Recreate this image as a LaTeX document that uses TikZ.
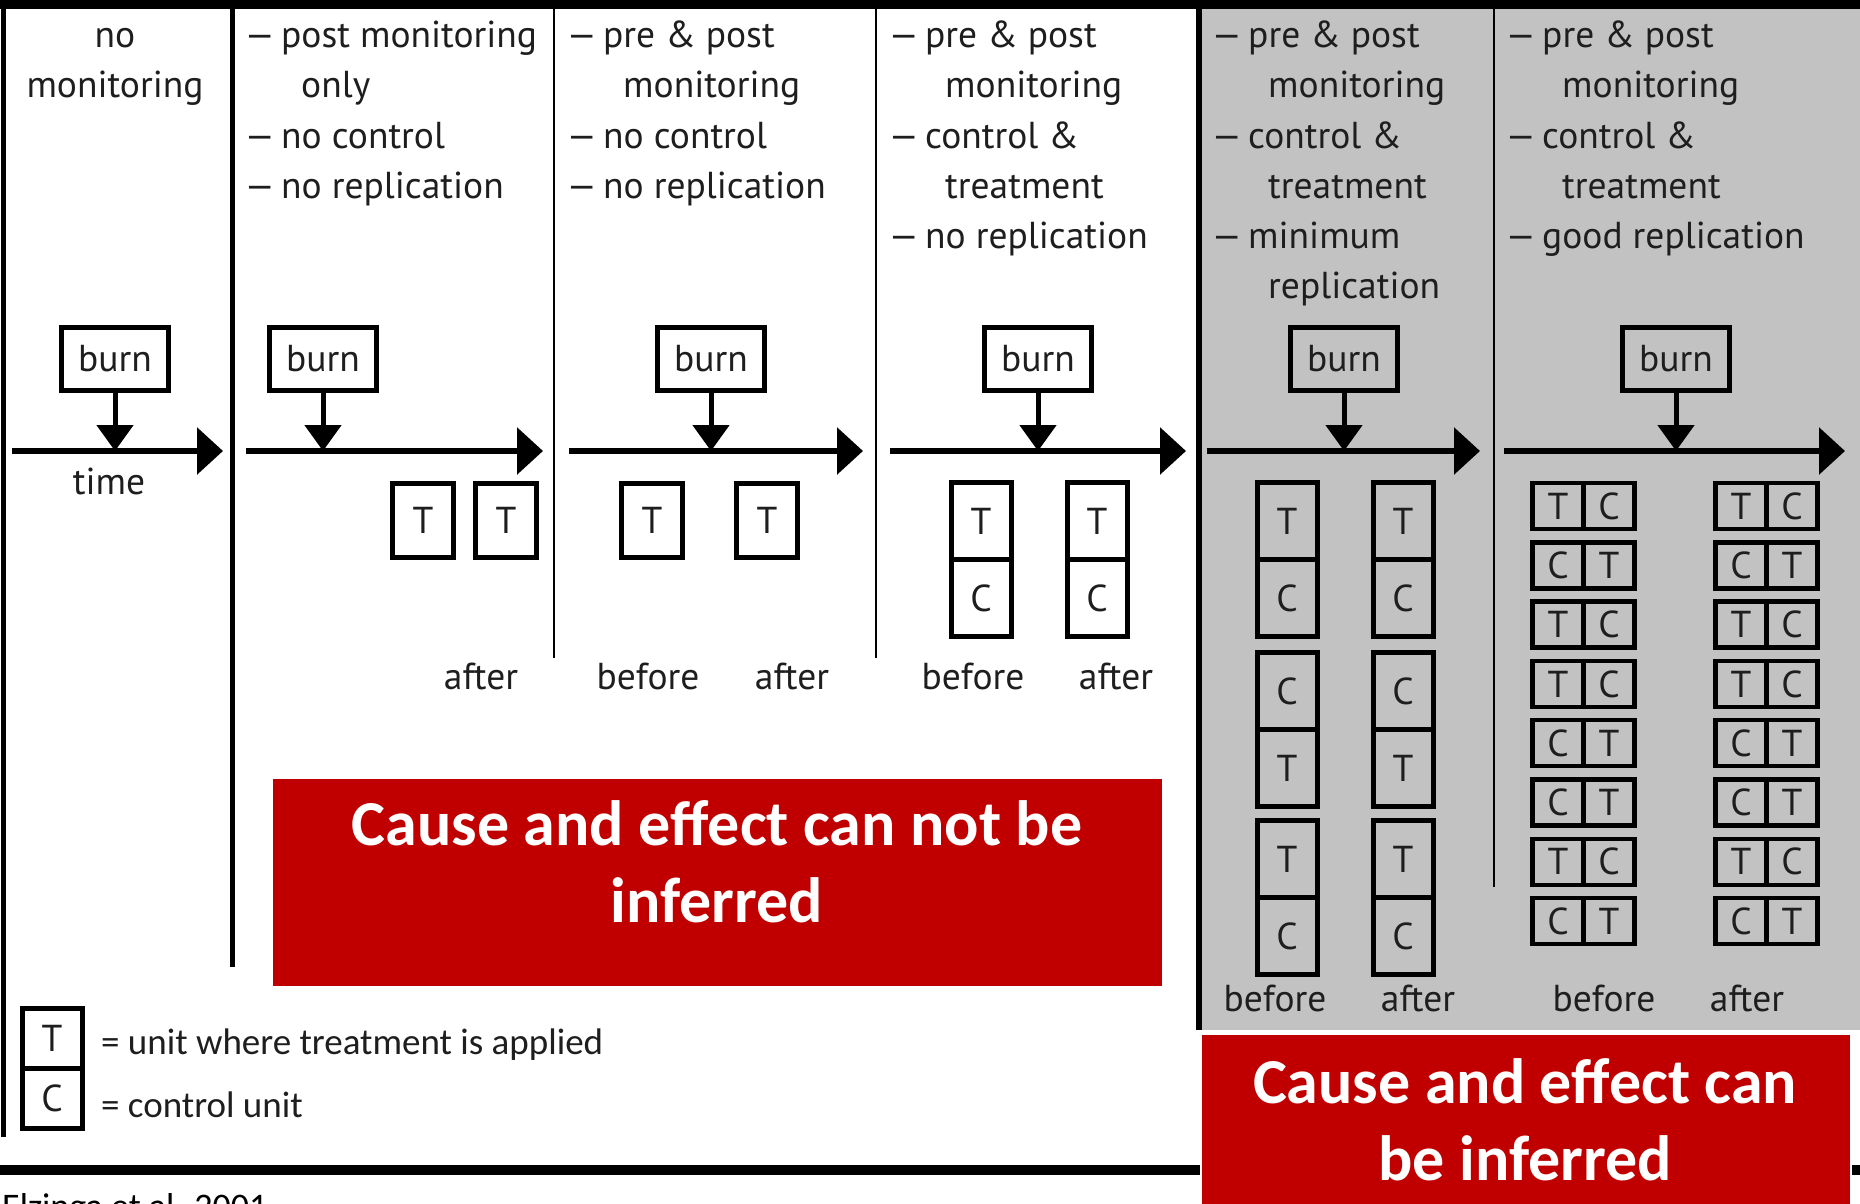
\documentclass[tikz,border=0pt]{standalone}
\usepackage{fontspec}
\usepackage{graphicx}
\setmainfont{PT Sans}
\newfontfamily\calfont{Carlito}
\usetikzlibrary{arrows.meta}
\definecolor{panelgray}{HTML}{C2C2C2}
\definecolor{alertred}{HTML}{C00000}
\definecolor{ink}{HTML}{1E1E1E}
% a long list dash followed by the gap before the item text
\newcommand\dashmark{\makebox[38pt][l]{\scalebox{1.35}[1]{–}}}

\begin{document}
\begin{tikzpicture}[x=1pt,y=-1pt,
  txt/.style={font=\fontsize{37.5}{50}\selectfont, text=ink, inner sep=0pt},
  head/.style={txt, anchor=base west},
  burnbox/.style={txt, draw=black, line width=5pt, minimum width=107pt, minimum height=63pt},
  unitbox/.style={txt, draw=black, line width=5pt, minimum width=61pt, minimum height=74pt},
  stackcell/.style={txt, draw=black, line width=5pt, minimum width=60pt, minimum height=77pt},
  paircell/.style={txt, draw=black, line width=4.5pt, minimum width=51pt, minimum height=46pt},
  keycell/.style={txt, draw=black, line width=5pt, minimum width=60pt, minimum height=60pt},
  timeline/.style={line width=6pt, -{Triangle[length=26pt,width=46pt]}},
  drop/.style={line width=5pt, -{Triangle[length=26pt,width=36pt]}},
  verdict/.style={font=\calfont\bfseries\fontsize{64}{77}\selectfont, text=white, align=center, inner sep=0pt},
  keytext/.style={font=\calfont\fontsize{37}{44}\selectfont, text=ink, inner sep=0pt, anchor=base west},
]
\useasboundingbox (0,0) rectangle (1860,1204);
\clip (0,0) rectangle (1860,1204);
\fill[white] (0,0) rectangle (1860,1204);
\fill[panelgray] (1200,9) rectangle (1860,1030);

% frame and column rules
\fill[black] (0,0) rectangle (1860,9);
\draw[line width=5pt] (3,0) -- (3,1137);
\draw[line width=5pt] (232,0) -- (232,967);
\draw[line width=1.8pt] (554,0) -- (554,658);
\draw[line width=1.8pt] (876,0) -- (876,658);
\draw[line width=6pt] (1199,0) -- (1199,1030);
\draw[line width=1.8pt] (1494,0) -- (1494,887);
\draw[line width=10pt] (0,1170) -- (1860,1170);

% column headings
\node[txt, anchor=base] (h1a) at (115,48) {no};
\node[txt, anchor=base] (h1b) at (115,98) {monitoring};

\node[head] (h2a) at (243,48) {\dashmark post monitoring};
\node[head] (h2b) at (301,98) {only};
\node[head] (h2c) at (243,148) {\dashmark no control};
\node[head] (h2d) at (243,198) {\dashmark no replication};

\node[head] (h3a) at (565,48) {\dashmark pre \& post};
\node[head] (h3b) at (623,98) {monitoring};
\node[head] (h3c) at (565,148) {\dashmark no control};
\node[head] (h3d) at (565,198) {\dashmark no replication};

\node[head] (h4a) at (887,48) {\dashmark pre \& post};
\node[head] (h4b) at (945,98) {monitoring};
\node[head] (h4c) at (887,148) {\dashmark control \&};
\node[head] (h4d) at (945,198) {treatment};
\node[head] (h4e) at (887,248) {\dashmark no replication};

\node[head] (h5a) at (1210,48) {\dashmark pre \& post};
\node[head] (h5b) at (1268,98) {monitoring};
\node[head] (h5c) at (1210,148) {\dashmark control \&};
\node[head] (h5d) at (1268,198) {treatment};
\node[head] (h5e) at (1210,248) {\dashmark minimum};
\node[head] (h5f) at (1268,298) {replication};

\node[head] (h6a) at (1504,48) {\dashmark pre \& post};
\node[head] (h6b) at (1562,98) {monitoring};
\node[head] (h6c) at (1504,148) {\dashmark control \&};
\node[head] (h6d) at (1562,198) {treatment};
\node[head] (h6e) at (1504,248) {\dashmark good replication};

% burn events and time axes
\node[burnbox] (b1) at (115,359) {burn};
\node[burnbox] (b2) at (323,359) {burn};
\node[burnbox] (b3) at (711,359) {burn};
\node[burnbox] (b4) at (1038,359) {burn};
\node[burnbox] (b5) at (1344,359) {burn};
\node[burnbox] (b6) at (1676,359) {burn};

\coordinate (a1s) at (12,451);   \coordinate (a1e) at (223,451);
\coordinate (a2s) at (246,451);  \coordinate (a2e) at (543,451);
\coordinate (a3s) at (569,451);  \coordinate (a3e) at (863,451);
\coordinate (a4s) at (890,451);  \coordinate (a4e) at (1186,451);
\coordinate (a5s) at (1207,451); \coordinate (a5e) at (1480,451);
\coordinate (a6s) at (1504,451); \coordinate (a6e) at (1845,451);

\foreach \i in {1,...,6}{
  \draw[timeline] (a\i s) -- (a\i e);
  \draw[drop] (b\i.south) -- (b\i.south |- a\i s);
}

\node[txt, anchor=base] (tm) at (109,494) {time};

% post monitoring only
\node[unitbox] (u2a) at (423,520) {T};
\node[unitbox] (u2b) at (506,520) {T};
\node[txt, anchor=base] (l2a) at (481,689) {after};

% pre and post monitoring
\node[unitbox] (u3a) at (652,520) {T};
\node[unitbox] (u3b) at (767,520) {T};
\node[txt, anchor=base] (l3a) at (648,689) {before};
\node[txt, anchor=base] (l3b) at (792,689) {after};

% control and treatment, one unit each
\node[stackcell] (u4a) at (981,521) {T};
\node[stackcell] (u4b) at (981,598) {C};
\node[stackcell] (u4c) at (1097,521) {T};
\node[stackcell] (u4d) at (1097,598) {C};
\node[txt, anchor=base] (l4a) at (973,689) {before};
\node[txt, anchor=base] (l4b) at (1116,689) {after};

% minimum replication
\foreach \x/\s in {1287/l,1403/r}{
  \node[stackcell] (u5\s a) at (\x,521) {T};
  \node[stackcell] (u5\s b) at (\x,598) {C};
  \node[stackcell] (u5\s c) at (\x,691) {C};
  \node[stackcell] (u5\s d) at (\x,768) {T};
  \node[stackcell] (u5\s e) at (\x,859) {T};
  \node[stackcell] (u5\s f) at (\x,936) {C};
}
\node[txt, anchor=base] (l5a) at (1275,1011) {before};
\node[txt, anchor=base] (l5b) at (1418,1011) {after};

% good replication
\foreach \p/\q [count=\k from 0] in {T/C,C/T,T/C,T/C,C/T,C/T,T/C,C/T}{
  \node[paircell] (u6a\k) at (1558,506+59.3*\k) {\p};
  \node[paircell] (u6b\k) at (1609,506+59.3*\k) {\q};
  \node[paircell] (u6c\k) at (1741,506+59.3*\k) {\p};
  \node[paircell] (u6d\k) at (1792,506+59.3*\k) {\q};
}
\node[txt, anchor=base] (l6a) at (1604,1011) {before};
\node[txt, anchor=base] (l6b) at (1747,1011) {after};

% key
\node[keycell] (kt) at (52,1038) {T};
\node[keycell] (kc) at (52,1098) {C};
\node[keytext] (ktx) at (101,1054) {= unit where treatment is applied};
\node[keytext] (kcx) at (101,1117) {= control unit};

% conclusions
\fill[alertred] (273,779) rectangle (1162,986);
\node[verdict] (v1) at (717,862) {Cause and effect can not be\\inferred};
\fill[alertred, draw=white, line width=2pt] (1201,1034) rectangle (1851,1210);
\node[verdict] (v2) at (1525,1120) {Cause and effect can\\be inferred};

% source
\node[font=\calfont\fontsize{36}{40}\selectfont, text=black, inner sep=0pt, anchor=base west] (src) at (2,1218) {Elzinga et al. 2001};
\end{tikzpicture}
\end{document}
